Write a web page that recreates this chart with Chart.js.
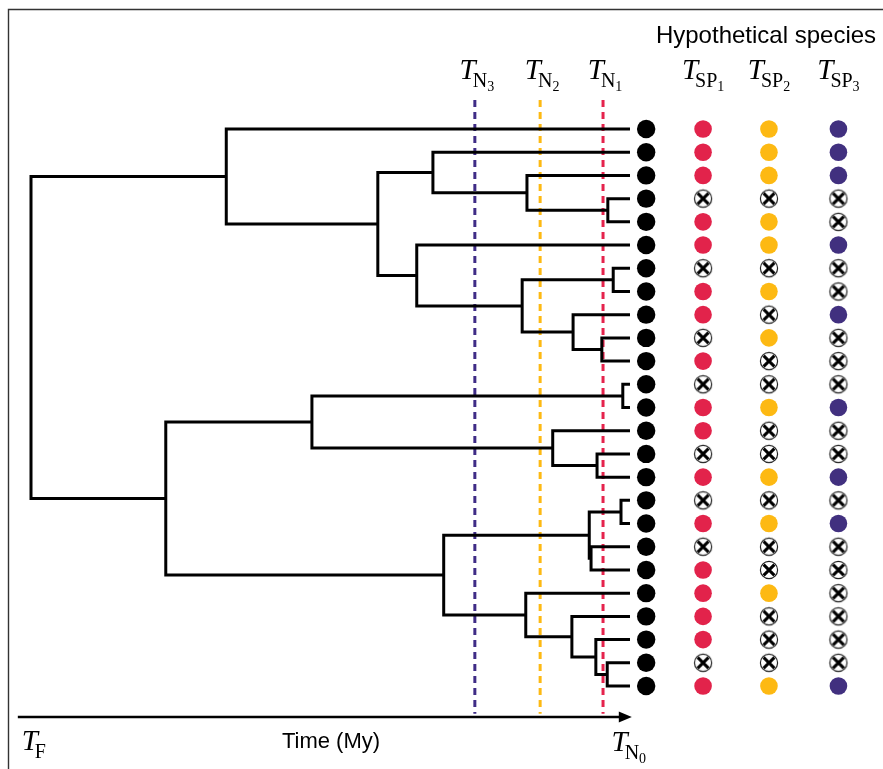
<!DOCTYPE html>
<html>
<head>
<meta charset="utf-8">
<title>Hypothetical species</title>
<script src="https://cdn.jsdelivr.net/npm/chart.js@4.4.1/dist/chart.umd.min.js"></script>
<style>
  body { margin: 0; background: #fff; }
  canvas { display: block; }
</style>
</head>
<body>
<canvas id="tree" width="883" height="769"></canvas>
<script>
// tree: internal nodes, their age (My before present, tips at 0) and two children
// children are either another node name or "tN" = tip number N (0 = top tip)
var tipCount = 25;
var nodeNames = ['root','n1','n2','n3','n4','n5','n6','n7','n8','n9','n10','n11',
                 'n12','n13','n14','n15','n16','n17','n18','n19','n20','n21','n22','n23'];
var nodeAges  = [100, 67.4, 42.1, 32.9, 17.2, 3.7, 35.6, 18.0, 2.8, 9.5, 4.7, 77.5,
                 53.1, 1.2, 12.9, 5.5, 31.1, 6.8, 1.5, 6.5, 17.4, 9.7, 5.7, 3.8];
var nodeKids  = [['n1','n11'], ['t0','n2'], ['n3','n6'], ['t1','n4'], ['t2','n5'], ['t3','t4'],
                 ['t5','n7'], ['n8','n9'], ['t6','t7'], ['t8','n10'], ['t9','t10'], ['n12','n16'],
                 ['n13','n14'], ['t11','t12'], ['t13','n15'], ['t14','t15'], ['n17','n20'],
                 ['n18','n19'], ['t16','t17'], ['t18','t19'], ['t20','n21'], ['t21','n22'],
                 ['t22','n23'], ['t23','t24']];

// time slices T_N3, T_N2, T_N1
var sliceSubs   = ['3', '2', '1'];
var sliceAges   = [25.9, 15.0, 4.5];
var sliceColors = ['#3f2c86', '#fdb913', '#e5234c'];

// hypothetical species at each tip: 1 = present, 0 = lost
var sp1 = [1,1,1,0,1,1,0,1,1,0,1,0,1,1,0,1,0,1,0,1,1,1,1,0,1];
var sp2 = [1,1,1,0,1,1,0,1,0,1,0,0,1,0,0,1,0,1,0,0,1,0,0,0,1];
var sp3 = [1,1,1,0,0,1,0,0,1,0,0,0,1,0,0,1,0,1,0,0,0,0,0,0,1];
var spColors = ['#e2234b', '#fdb913', '#41307f'];

// where the dot columns sit, on the time scale (past the tips)
var tipCol = -2.7;
var spCols = [-12.2, -23.2, -34.8];

function isTip(id) { return id.charAt(0) == 't'; }
function ageOf(id) { return isTip(id) ? 0 : nodeAges[nodeNames.indexOf(id)]; }
function rowOf(id) {
  if (isTip(id)) return +id.slice(1);
  var k = nodeKids[nodeNames.indexOf(id)];
  return (rowOf(k[0]) + rowOf(k[1])) / 2;
}

var datasets = [];

// branches: one elbow per node
nodeNames.forEach(function(name, i) {
  var a = nodeKids[i][0], b = nodeKids[i][1];
  datasets.push({
    type: 'line',
    data: [{x: ageOf(a), y: rowOf(a)}, {x: nodeAges[i], y: rowOf(a)},
           {x: nodeAges[i], y: rowOf(b)}, {x: ageOf(b), y: rowOf(b)}],
    borderColor: '#000', borderWidth: 3, pointRadius: 0,
    borderJoinStyle: 'miter', borderCapStyle: 'butt', clip: false
  });
});

// time slice dashed lines
sliceAges.forEach(function(age, i) {
  datasets.push({
    type: 'line',
    data: [{x: age, y: -1.25}, {x: age, y: 25.2}],
    borderColor: sliceColors[i], borderWidth: 3, borderDash: [7, 5],
    pointRadius: 0, clip: false
  });
});

// crossed circle for lost species
var lost = document.createElement('canvas');
lost.width = 22; lost.height = 22;
(function() {
  var c = lost.getContext('2d');
  c.beginPath(); c.arc(11, 11, 8.6, 0, Math.PI * 2);
  c.fillStyle = '#fff'; c.fill();
  c.lineWidth = 1.2; c.strokeStyle = '#222'; c.stroke();
  c.beginPath();
  c.moveTo(5.6, 5.6); c.lineTo(16.4, 16.4);
  c.moveTo(16.4, 5.6); c.lineTo(5.6, 16.4);
  c.lineWidth = 3; c.strokeStyle = '#000'; c.stroke();
})();

// tip dots
var tipPts = [];
for (var t = 0; t < tipCount; t++) tipPts.push({x: tipCol, y: t});
datasets.push({
  type: 'scatter', data: tipPts, pointRadius: 9.2, pointBackgroundColor: '#000',
  pointBorderWidth: 0, clip: false
});

[sp1, sp2, sp3].forEach(function(sp, j) {
  var have = [], gone = [];
  sp.forEach(function(v, t) { (v ? have : gone).push({x: spCols[j], y: t}); });
  datasets.push({
    type: 'scatter', data: have, pointRadius: 8.8, pointBackgroundColor: spColors[j],
    pointBorderWidth: 0, clip: false
  });
  datasets.push({
    type: 'scatter', data: gone, pointStyle: lost, pointRadius: 9, clip: false
  });
});

function subLabel(ctx, cx, base, main, sub, subsub) {
  ctx.font = 'italic 29px "Liberation Serif"';
  var w1 = ctx.measureText(main).width;
  ctx.font = '20px "Liberation Serif"';
  var w2 = ctx.measureText(sub).width;
  ctx.font = '14px "Liberation Serif"';
  var w3 = subsub ? ctx.measureText(subsub).width : 0;
  var x = cx - (w1 - 3 + w2 + w3) / 2;
  ctx.fillStyle = '#000';
  ctx.textAlign = 'left';
  ctx.textBaseline = 'alphabetic';
  ctx.font = 'italic 29px "Liberation Serif"';
  ctx.fillText(main, x, base);
  ctx.font = '20px "Liberation Serif"';
  ctx.fillText(sub, x + w1 - 3, base + 8);
  if (subsub) {
    ctx.font = '14px "Liberation Serif"';
    ctx.fillText(subsub, x + w1 - 3 + w2, base + 12);
  }
}

var decor = {
  id: 'decor',
  beforeDraw: function(chart) {
    var ctx = chart.ctx;
    ctx.save();
    ctx.strokeStyle = '#333';
    ctx.lineWidth = 1.4;
    ctx.beginPath();
    ctx.moveTo(8.5, 769); ctx.lineTo(8.5, 9.5); ctx.lineTo(883, 9.5);
    ctx.stroke();
    ctx.restore();
  },
  afterDraw: function(chart) {
    var ctx = chart.ctx, xs = chart.scales.x, ys = chart.scales.y;
    ctx.save();

    // time arrow
    var ay = ys.getPixelForValue(25.34);
    var x0 = xs.getPixelForValue(102.2), x1 = xs.getPixelForValue(-0.3);
    ctx.strokeStyle = '#000'; ctx.fillStyle = '#000'; ctx.lineWidth = 2.5;
    ctx.beginPath(); ctx.moveTo(x0, ay); ctx.lineTo(x1 - 10, ay); ctx.stroke();
    ctx.beginPath();
    ctx.moveTo(x1, ay); ctx.lineTo(x1 - 13, ay - 5.5); ctx.lineTo(x1 - 13, ay + 5.5);
    ctx.closePath(); ctx.fill();

    subLabel(ctx, x0 + 16, 750, 'T', 'F');
    subLabel(ctx, x1 - 3, 751, 'T', 'N', '0');
    ctx.font = '22px "Liberation Sans"';
    ctx.textAlign = 'center';
    ctx.fillText('Time (My)', 331, 748);

    // header
    ctx.font = '24px "Liberation Sans"';
    ctx.textAlign = 'center';
    ctx.fillText('Hypothetical species', 766, 43);

    sliceAges.forEach(function(age, i) {
      subLabel(ctx, xs.getPixelForValue(age) + 2, 79, 'T', 'N', sliceSubs[i]);
    });
    spCols.forEach(function(c, j) {
      subLabel(ctx, xs.getPixelForValue(c), 79, 'T', 'SP', String(j + 1));
    });
    ctx.restore();
  }
};

new Chart(document.getElementById('tree'), {
  type: 'scatter',
  data: { datasets: datasets },
  options: {
    responsive: false,
    devicePixelRatio: 1,
    animation: false,
    layout: { padding: { left: 31, right: 23, top: 129, bottom: 83 } },
    plugins: { legend: { display: false }, tooltip: { enabled: false } },
    scales: {
      x: { type: 'linear', reverse: true, min: -38.4, max: 100, display: false },
      y: { type: 'linear', reverse: true, min: 0, max: 24, display: false }
    }
  },
  plugins: [decor]
});
</script>
</body>
</html>
